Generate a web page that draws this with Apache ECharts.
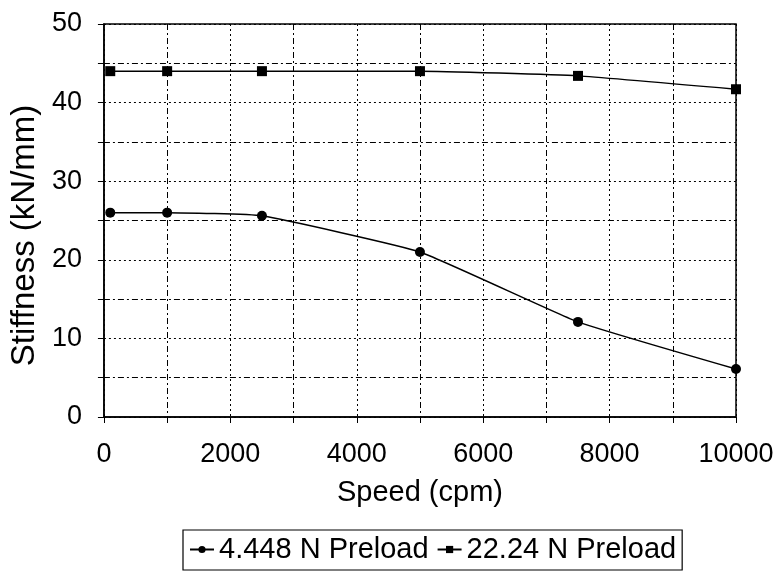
<!DOCTYPE html>
<html><head><meta charset="utf-8">
<script src="https://cdn.jsdelivr.net/npm/echarts@6/dist/echarts.min.js"></script>
<style>html,body{margin:0;padding:0;background:#fff}#c{width:778px;height:578px}</style>
</head><body><div id="c"></div>
<script>
const speeds = [100, 1000, 2500, 5000, 7500, 10000];
const preload4448 = [26.0, 26.0, 25.6, 21.0, 12.1, 6.1];
const preload2224 = [44.0, 44.0, 44.0, 44.0, 43.4, 41.7];
const seriesNames = ['4.448 N Preload', '22.24 N Preload'];
const xName = 'Speed (cpm)';
const yName = 'Stiffness (kN/mm)';

const font = 'Liberation Sans, Arial, sans-serif';
const chart = echarts.init(document.getElementById('c'));
const zip = (xs, ys) => xs.map((x, i) => [x, ys[i]]);
const dashDot = [6, 3, 2, 3];
chart.setOption({
  animation: false,
  backgroundColor: '#fff',
  grid: { left: 103, right: 42, top: 24, bottom: 161, show: true, borderColor: '#000', borderWidth: 1.5, containLabel: false },
  xAxis: {
    type: 'value', min: 0, max: 10000, interval: 2000,
    name: xName, nameLocation: 'middle', nameGap: 61,
    nameTextStyle: { fontFamily: font, fontSize: 29, color: '#000' },
    axisLine: { show: true, onZero: false, lineStyle: { color: '#000', width: 1.5 } },
    axisTick: { show: true, length: 6, inside: false, lineStyle: { color: '#000' } },
    minorTick: { show: true, splitNumber: 2, length: 6, lineStyle: { color: '#000' } },
    axisLabel: { fontFamily: font, fontSize: 27, color: '#000', margin: 24, formatter: v => String(v) },
    splitLine: { show: true, lineStyle: { color: '#000', type: [2, 3], width: 1 } },
    minorSplitLine: { show: true, lineStyle: { color: '#000', type: dashDot, width: 1 } }
  },
  yAxis: {
    type: 'value', min: 0, max: 50, interval: 10,
    name: yName, nameLocation: 'middle', nameGap: 58,
    nameTextStyle: { fontFamily: font, fontSize: 33, color: '#000', padding: [0, 30, 0, 0] },
    axisLine: { show: true, onZero: false, lineStyle: { color: '#000', width: 1.5 } },
    axisTick: { show: true, length: 6, lineStyle: { color: '#000' } },
    minorTick: { show: true, splitNumber: 2, length: 6, lineStyle: { color: '#000' } },
    axisLabel: { fontFamily: font, fontSize: 27, color: '#000', margin: 22 },
    splitLine: { show: true, lineStyle: { color: '#000', type: [2, 3], width: 1 } },
    minorSplitLine: { show: true, lineStyle: { color: '#000', type: dashDot, width: 1 } }
  },
  legend: {
    show: true, top: 530, left: 183,
    borderColor: '#000', borderWidth: 1.2, padding: [5, 6, 6, 6],
    itemGap: 8, itemWidth: 24, itemHeight: 9,
    textStyle: { fontFamily: font, fontSize: 29, color: '#000' },
    data: seriesNames
  },
  series: [
    { name: seriesNames[0], type: 'line', data: zip(speeds, preload4448), smooth: 0.12,
      symbol: 'circle', symbolSize: 10, itemStyle: { color: '#000' },
      lineStyle: { color: '#000', width: 1.5 } },
    { name: seriesNames[1], type: 'line', data: zip(speeds, preload2224), smooth: 0.12,
      symbol: 'rect', symbolSize: 10, itemStyle: { color: '#000' },
      lineStyle: { color: '#000', width: 1.5 } }
  ]
});
</script></body></html>
